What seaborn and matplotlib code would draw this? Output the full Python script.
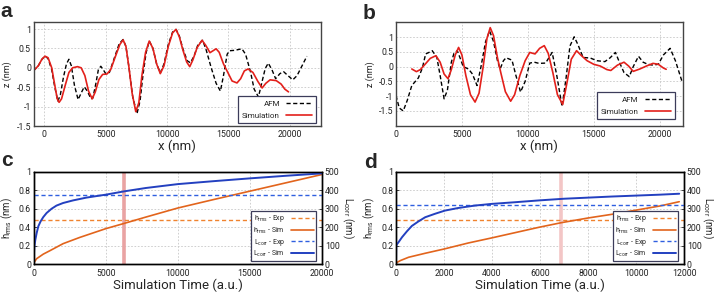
import numpy as np
import pandas as pd
import matplotlib
matplotlib.use("Agg")
from matplotlib import pyplot as plt
from matplotlib.ticker import FuncFormatter, MultipleLocator
from matplotlib.lines import Line2D
import seaborn as sns

# ---- panel a: profiles (x in nm, z in nm)
a_afm_x = [-900, -500, -200, 50, 300, 600, 850, 1100, 1300, 1550, 1800, 2000, 2200, 2450, 2750, 3000,
           3250, 3500, 3800, 3950, 4200, 4400, 4600, 4800, 5000, 5300, 5700, 6100, 6420, 6650, 6900,
           7200, 7550, 7800, 8050, 8300, 8550, 8850, 9150, 9450, 9750, 10100, 10450, 10730, 11000,
           11300, 11650, 11900, 12200, 12500, 12900, 13200, 13600, 14000, 14350, 14600, 14900, 15100,
           15500, 16100, 16400, 16800, 17100, 17450, 17750, 18000, 18250, 18550, 18850, 19200, 19500,
           19850, 20250, 20600, 21000, 21400]
a_afm_z = [-0.08, 0.05, 0.22, 0.30, 0.24, -0.05, -0.50, -0.86, -0.70, -0.25, 0.10, 0.22, 0.05, -0.45,
           -0.82, -0.65, -0.49, -0.60, -0.80, -0.78, -0.40, -0.05, 0.04, -0.05, -0.15, -0.12, 0.25,
           0.62, 0.73, 0.55, 0.0, -0.75, -1.18, -0.85, -0.15, 0.40, 0.69, 0.50, 0.10, -0.13, 0.10,
           0.60, 0.92, 0.99, 0.82, 0.48, 0.18, 0.13, 0.30, 0.58, 0.71, 0.45, 0.0, -0.40, -0.60, -0.20,
           0.35, 0.44, 0.45, 0.49, 0.35, -0.10, -0.55, -0.75, -0.35, -0.02, 0.12, -0.05, -0.28, -0.15,
           -0.10, -0.20, -0.31, -0.20, 0.05, 0.30]
a_sim_x = [-900, -500, -200, 50, 300, 600, 850, 1050, 1200, 1400, 1700, 2000, 2300, 2700, 3000, 3300,
           3600, 3900, 4150, 4450, 4750, 5100, 5400, 5800, 6150, 6420, 6650, 6900, 7150, 7450, 7700,
           7950, 8250, 8550, 8850, 9150, 9450, 9750, 10100, 10450, 10730, 11000, 11300, 11600, 11850,
           12100, 12450, 12850, 13150, 13500, 13750, 14000, 14250, 14600, 15000, 15300, 15700, 16000,
           16300, 16600, 17000, 17400, 17750, 18050, 18400, 18900, 19300, 19600, 19900]
a_sim_z = [-0.08, 0.05, 0.22, 0.30, 0.26, 0.0, -0.45, -0.80, -0.89, -0.80, -0.45, -0.12, 0.0, 0.03,
           0.0, -0.20, -0.60, -0.80, -0.62, -0.30, -0.17, -0.16, -0.05, 0.30, 0.60, 0.72, 0.55, 0.0,
           -0.65, -1.13, -0.90, -0.20, 0.40, 0.69, 0.50, 0.10, -0.15, 0.05, 0.55, 0.90, 0.99, 0.80,
           0.45, 0.15, 0.03, 0.20, 0.52, 0.71, 0.58, 0.39, 0.44, 0.49, 0.40, 0.10, -0.15, -0.34, -0.39,
           -0.28, -0.08, -0.03, -0.12, -0.35, -0.52, -0.40, -0.31, -0.33, -0.42, -0.55, -0.62]

# ---- panel b: profiles
b_afm_x = [0, 250, 550, 850, 1200, 1700, 2000, 2250, 2500, 2750, 3100, 3350, 3650, 3900, 4200, 4400,
           4650, 4900, 5100, 5500, 5800, 6150, 6450, 6800, 7100, 7400, 7700, 7900, 8150, 8350, 8800,
           9100, 9450, 9800, 10150, 10500, 10850, 11350, 11850, 12200, 12600, 12900, 13200, 13520,
           13800, 14200, 14750, 15250, 15850, 16250, 16650, 16950, 17300, 17700, 18000, 18400, 18750,
           19100, 19500, 19900, 20300, 20800, 21200, 21700]
b_afm_z = [-0.98, -1.40, -1.50, -1.15, -0.64, -0.38, -0.05, 0.43, 0.48, 0.54, 0.31, -0.30, -1.09, -0.80,
           0.15, 0.45, 0.54, 0.25, 0.0, -0.08, -0.25, -0.64, 0.0, 0.85, 1.21, 0.85, 0.20, -0.08, 0.20,
           0.30, 0.22, -0.30, -0.86, -0.50, 0.12, 0.15, 0.11, 0.12, 0.48, -0.30, -1.35, -0.40, 0.70,
           1.01, 0.75, 0.31, 0.29, 0.20, 0.17, 0.30, 0.48, 0.15, -0.20, -0.34, 0.0, 0.35, 0.15, 0.08,
           0.05, 0.08, 0.40, 0.62, 0.20, -0.50]
b_sim_x = [1200, 1550, 1850, 2150, 2600, 3030, 3350, 3650, 3950, 4200, 4500, 4750, 5000, 5300, 5650,
           6000, 6300, 6600, 6900, 7150, 7400, 7700, 7950, 8300, 8700, 9000, 9400, 9800, 10150, 10550,
           10900, 11250, 11550, 11900, 12250, 12650, 12950, 13300, 13700, 14050, 14500, 15000, 15500,
           16000, 16300, 16800, 17300, 17650, 18000, 18500, 19000, 19500, 19900, 20300, 20500]
b_sim_z = [-0.08, -0.17, -0.10, 0.05, 0.28, 0.37, 0.15, -0.25, -0.41, -0.10, 0.40, 0.65, 0.40, -0.30,
           -0.95, -1.20, -0.90, -0.05, 0.95, 1.32, 1.05, 0.30, -0.20, -0.85, -1.17, -0.95, -0.30, 0.20,
           0.48, 0.43, 0.62, 0.71, 0.45, -0.20, -0.95, -1.28, -0.60, 0.25, 0.54, 0.38, 0.20, 0.08, 0.02,
           -0.10, -0.13, 0.05, 0.15, 0.02, -0.16, -0.08, 0.02, 0.11, 0.08, -0.05, -0.09]

# ---- panel c: evolution with simulation time
c_L_t = [0, 20, 46, 115, 206, 320, 480, 665, 895, 1240, 1580, 2040, 2730, 3650, 5000, 6285, 7780,
         10000, 12500, 15000, 17500, 20000]
c_L_sim = [0, 60, 97, 133, 169, 205, 232, 255, 277, 300, 317, 331, 345, 360, 376, 394, 412, 433, 449,
           464, 478, 491]
c_h_t = [0, 46, 206, 665, 1124, 2040, 3190, 5000, 6285, 7780, 10000, 12500, 15000, 17500, 20000]
c_h_sim = [0, 0.025, 0.061, 0.11, 0.147, 0.223, 0.29, 0.385, 0.442, 0.51, 0.608, 0.70, 0.79, 0.88, 0.97]
c_h_exp = 0.478
c_L_exp = 372
c_mark = 6280

# ---- panel d
d_L_t = [0, 10, 28, 110, 250, 455, 660, 940, 1215, 1630, 2040, 2590, 3280, 3970, 4940, 5960, 7000,
         8000, 9000, 10000, 11000, 11800]
d_L_sim = [0, 97, 106, 120, 146, 178, 207, 232, 254, 273, 290, 304, 317, 326, 335, 345, 354, 360, 366,
           371, 376, 381]
d_h_t = [0, 28, 180, 525, 1215, 2000, 3010, 3970, 5960, 6900, 8000, 9000, 10000, 11000, 11800]
d_h_sim = [0, 0.018, 0.04, 0.076, 0.119, 0.165, 0.23, 0.284, 0.40, 0.45, 0.50, 0.54, 0.585, 0.63, 0.676]
d_h_exp = 0.483
d_L_exp = 318
d_mark = 6880

sns.set_theme(style="whitegrid")
plt.rcParams["font.family"] = ["Roboto", "DejaVu Sans"]
plt.rcParams["axes.unicode_minus"] = False
plt.rcParams["mathtext.fontset"] = "custom"
plt.rcParams["mathtext.rm"] = "Roboto"
plt.rcParams["mathtext.it"] = "Roboto:italic"

RED = "#e3201b"
ORANGE = "#e2641c"
ORANGE_D = "#f0832e"
BLUE = "#2340c0"
BLUE_D = "#2f5fe0"
fmt = FuncFormatter(lambda v, p: "%g" % v)

fig = plt.figure(figsize=(7.14, 2.94), dpi=100)
ax_a = fig.add_axes([0.0472, 0.5714, 0.4024, 0.3537])
ax_b = fig.add_axes([0.5546, 0.5724, 0.4015, 0.3517])
ax_c = fig.add_axes([0.0472, 0.1010, 0.4038, 0.3150])
ax_d = fig.add_axes([0.5546, 0.1010, 0.4034, 0.3150])


def style(ax, edge):
    ax.set_facecolor("white")
    ax.grid(True, color="#c8c8c8", linestyle=(0, (2, 2)), linewidth=0.6)
    for s in ax.spines.values():
        s.set_color(edge)
        s.set_linewidth(1.0)
    ax.tick_params(direction="in", length=2.5, width=0.6, labelsize=6.3, pad=2, colors="#222222")
    ax.tick_params(axis="x", pad=3.2)
    ax.xaxis.set_major_formatter(fmt)
    ax.yaxis.set_major_formatter(fmt)


def profile(ax, afm_x, afm_z, sim_x, sim_z, right, ylim, legend_anchor):
    afm = pd.DataFrame({"x": afm_x, "z": afm_z})
    sim = pd.DataFrame({"x": sim_x, "z": sim_z})
    sns.lineplot(data=afm, x="x", y="z", ax=ax, color="black", lw=1.0, linestyle=(0, (3, 1.8)),
                 estimator=None, sort=False, label="AFM")
    sns.lineplot(data=sim, x="x", y="z", ax=ax, color=RED, lw=1.2, estimator=None, sort=False,
                 label="Simulation")
    style(ax, "#444444")
    ax.set_xlim(right[0], right[1])
    ax.set_ylim(*ylim)
    ax.xaxis.set_major_locator(MultipleLocator(5000))
    ax.yaxis.set_major_locator(MultipleLocator(0.5))
    ax.set_xlabel("x (nm)", fontsize=9.5, labelpad=0)
    ax.set_ylabel("z (nm)", fontsize=6.5, labelpad=3)
    leg = ax.legend(loc="lower right", bbox_to_anchor=legend_anchor, markerfirst=False, fontsize=5.8,
                    frameon=True, fancybox=False, framealpha=1, edgecolor="#3c3c5a",
                    handlelength=3.2, borderpad=0.5, labelspacing=0.7, borderaxespad=0)
    leg.get_frame().set_linewidth(0.9)


profile(ax_a, a_afm_x, a_afm_z, a_sim_x, a_sim_z, (-870, 22550), (-1.5, 1.18), (0.983, 0.03))
ax_a.set_yticks([-1.5, -1, -0.5, 0, 0.5, 1])
profile(ax_b, b_afm_x, b_afm_z, b_sim_x, b_sim_z, (0, 21750), (-2.0, 1.5), (0.973, 0.065))
ax_b.set_yticks([-1.5, -1, -0.5, 0, 0.5, 1])


def evolution(ax, h_t, h_sim, L_t, L_sim, h_exp, L_exp, mark, mark_color, xmax, xstep, rlab_x):
    ax2 = ax.twinx()
    ax.axvline(mark, color=mark_color, lw=2.6, zorder=1)
    ax.axhline(h_exp, color=ORANGE_D, lw=1.0, linestyle=(0, (3, 2)), zorder=2)
    hs = pd.DataFrame({"t": h_t, "h": h_sim})
    sns.lineplot(data=hs, x="t", y="h", ax=ax, color=ORANGE, lw=1.2, estimator=None, sort=False)
    ax2.axhline(L_exp, color=BLUE_D, lw=1.0, linestyle=(0, (3, 2)))
    ls = pd.DataFrame({"t": L_t, "L": L_sim})
    sns.lineplot(data=ls, x="t", y="L", ax=ax2, color=BLUE, lw=1.4, estimator=None, sort=False)
    style(ax, "black")
    ax2.grid(False)
    for s in ax2.spines.values():
        s.set_color("black")
        s.set_linewidth(1.0)
    ax2.tick_params(direction="in", length=2.5, width=0.6, labelsize=6.3, pad=2, colors="#222222")
    ax.set_xlim(0, xmax)
    ax.set_ylim(0, 1)
    ax2.set_ylim(0, 500)
    ax.xaxis.set_major_locator(MultipleLocator(xstep))
    ax.yaxis.set_major_locator(MultipleLocator(0.2))
    ax2.yaxis.set_major_locator(MultipleLocator(100))
    ax2.yaxis.set_major_formatter(fmt)
    ax.set_xlabel("Simulation Time (a.u.)", fontsize=9.5, labelpad=0.5)
    ax.set_ylabel(r"h$_{\rm rms}$ (nm)", fontsize=7, labelpad=3)
    ax2.set_ylabel(r"L$_{\rm corr}$ (nm)", fontsize=7, rotation=270, ha="center", va="center")
    ax2.yaxis.set_label_coords(rlab_x, 0.5)
    handles = [Line2D([], [], color=ORANGE_D, lw=1.0, linestyle=(0, (3, 2))),
               Line2D([], [], color=ORANGE, lw=1.2),
               Line2D([], [], color=BLUE_D, lw=1.0, linestyle=(0, (3, 2))),
               Line2D([], [], color=BLUE, lw=1.4)]
    labels = [r"h$_{\rm rms}$ - Exp", r"h$_{\rm rms}$ - Sim",
              r"L$_{\rm corr}$ - Exp", r"L$_{\rm corr}$ - Sim"]
    leg = ax2.legend(handles, labels, loc="lower right", bbox_to_anchor=(0.98, 0.036), markerfirst=False,
                     fontsize=5.0, frameon=True, fancybox=False, framealpha=1, edgecolor="#3c3c5a",
                     handlelength=3.4, handleheight=0.5, borderpad=0.3, labelspacing=0.15,
                     borderaxespad=0)
    leg.get_frame().set_linewidth(0.9)


evolution(ax_c, c_h_t, c_h_sim, c_L_t, c_L_sim, c_h_exp, c_L_exp, c_mark, "#e9a3a3", 20000, 5000, 1.090)
evolution(ax_d, d_h_t, d_h_sim, d_L_t, d_L_sim, d_h_exp, d_L_exp, d_mark, "#f3c6c6", 12000, 2000, 1.083)

for lab, x, y in [("a", 0.001, 0.942), ("b", 0.508, 0.936), ("c", 0.002, 0.435), ("d", 0.510, 0.428)]:
    fig.text(x, y, lab, fontsize=15, fontweight="bold", family="Liberation Sans", va="baseline")

fig.savefig("out.png", dpi=100)
